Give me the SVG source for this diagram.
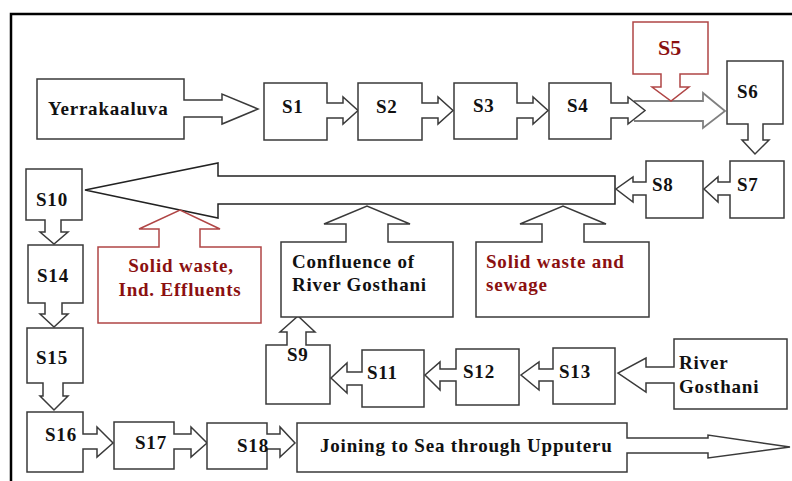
<svg xmlns="http://www.w3.org/2000/svg" width="792" height="481" viewBox="0 0 792 481">
<style>
.n{fill:#fff;stroke:#3a3a3a;stroke-width:1.5;stroke-linejoin:miter}
.r{fill:#fff;stroke:#b04545;stroke-width:1.5}
.g{fill:#fff;stroke:#808080;stroke-width:1.8}
.k{fill:#fff;stroke:#222;stroke-width:1.5}
text{font-family:"Liberation Serif","Times New Roman",serif;font-weight:bold;font-size:19px;letter-spacing:0.8px;fill:#111}
.rt{fill:#8b1010}
</style>
<rect width="792" height="481" fill="#fff"/>
<path d="M11,481 V14 H792" fill="none" stroke="#000" stroke-width="2.5"/>
<g id="connectors">
<path class="g" d="M634,101 H703 V93 L725,111 L703,128 V121 H634"/>
<path class="k" d="M615,176 V204 H218 V218 L85,190 L218,163 V176 Z"/>
</g>
<g id="yerrakaaluva"><path class="n" d="M37,79 H184 V100 H222 V94 L258,109 L222,124 V117 H184 V139 H37 Z"/><text x="48" y="115">Yerrakaaluva</text></g>
<g id="s1"><path class="n" d="M264,83 H327 V103 H343 V97 L358,110.5 L343,124 V118 H327 V140 H264 Z"/><text x="282" y="113">S1</text></g>
<g id="s2"><path class="n" d="M358,83 H422 V103 H438 V97 L453,110.5 L438,124 V118 H422 V140 H358 Z"/><text x="376" y="113">S2</text></g>
<g id="s3"><path class="n" d="M454,83 H517 V103 H533 V97 L548,110.5 L533,124 V118 H517 V139 H454 Z"/><text x="473" y="112">S3</text></g>
<g id="s4"><path class="n" d="M549,83 H611 V103 H628 V97 L645,110.5 L628,124 V118 H611 V139 H549 Z"/><text x="567" y="112">S4</text></g>
<g id="s5"><path class="r" d="M633,22 H708 V74 H680 V87 H689 L671,101 L652,87 H661 V74 H633 Z"/><text class="rt" x="658" y="55" style="font-size:22px;letter-spacing:0">S5</text></g>
<g id="s6"><path class="n" d="M727,61 H783 V124 H763 V140 H769 L755,154 L742,140 H748 V124 H727 Z"/><text x="737" y="98">S6</text></g>
<g id="s7"><path class="n" d="M784,161 V218 H730 V195 H718 V202 L704,189 L718,177 V182 H730 V161 Z"/><text x="737" y="191">S7</text></g>
<g id="s8"><path class="n" d="M703,161 V218 H646 V195 H633 V202 L616,189 L633,177 V182 H646 V161 Z"/><text x="652" y="191">S8</text></g>
<g id="s10"><path class="n" d="M26,169 H82 V220 H61 V232 H68 L54,244 L40,232 H45 V220 H26 Z"/><text x="36" y="206">S10</text></g>
<g id="s14"><path class="n" d="M28,245 H83 V303 H62 V314 H68 L54,327 L40,314 H45 V303 H28 Z"/><text x="37" y="282">S14</text></g>
<g id="s15"><path class="n" d="M27,328 H83 V383 H63 V396 H68 L54,410 L40,396 H43 V383 H27 Z"/><text x="36" y="364">S15</text></g>
<g id="s16"><path class="n" d="M27,412 H83 V434 H97 V427 L113,443 L97,457 V449 H83 V472 H27 Z"/><text x="45" y="441">S16</text></g>
<g id="s17"><path class="n" d="M114,422 H174 V434 H191 V427 L207,443 L191,457 V449 H174 V469 H114 Z"/><text x="135" y="449">S17</text></g>
<g id="s18"><path class="n" d="M207,423 H267 V434 H280 V427 L295,443 L280,457 V449 H267 V469 H207 Z"/><text x="237" y="452">S18</text></g>
<g id="sea"><path class="n" d="M297,423 H627 V438 H708 V435 L790,447 L708,458 V453 H627 V472 H297 Z"/><text x="320" y="452">Joining to Sea through Upputeru</text></g>
<g id="river-gosthani"><path class="n" d="M787,339 V409 H674 V383 H646 V392 L618,373 L646,358 V367 H674 V339 Z"/><text x="679" y="369">River</text><text x="679" y="393">Gosthani</text></g>
<g id="s13"><path class="n" d="M615,348 V404 H553 V381 H539 V390 L521,375 L539,362 V369 H553 V348 Z"/><text x="559" y="378">S13</text></g>
<g id="s12"><path class="n" d="M519,349 V405 H456 V381 H440 V390 L425,375 L440,362 V369 H456 V349 Z"/><text x="463" y="378">S12</text></g>
<g id="s11"><path class="n" d="M424,350 V407 H362 V385 H347 V393 L331,378 L347,363 V372 H362 V350 Z"/><text x="367" y="379">S11</text></g>
<g id="s9"><path class="n" d="M266,404 V345 H287 V332 H280 L298,316 L315,332 H306 V345 H330 V404 Z"/><text x="287" y="361">S9</text></g>
<g id="confluence"><path class="n" d="M281,317 V242 H346 V224 H324 L367,206 L410,224 H388 V242 H453 V317 Z"/><text x="292" y="268">Confluence of</text><text x="292" y="291">River Gosthani</text></g>
<g id="solid-waste-sewage"><path class="n" d="M476,317 V242 H542 V224 H520 L563,206 L606,224 H584 V242 H649 V317 Z"/><text class="rt" x="486" y="268">Solid waste and</text><text class="rt" x="486" y="291">sewage</text></g>
<g id="solid-waste-effluents"><path class="r" d="M98,323 V247 H159 V229 H139 L180,210 L220,229 H200 V247 H261 V323 Z"/><text class="rt" x="181" y="272" text-anchor="middle">Solid waste,</text><text class="rt" x="180" y="296" text-anchor="middle">Ind. Effluents</text></g>
</svg>
